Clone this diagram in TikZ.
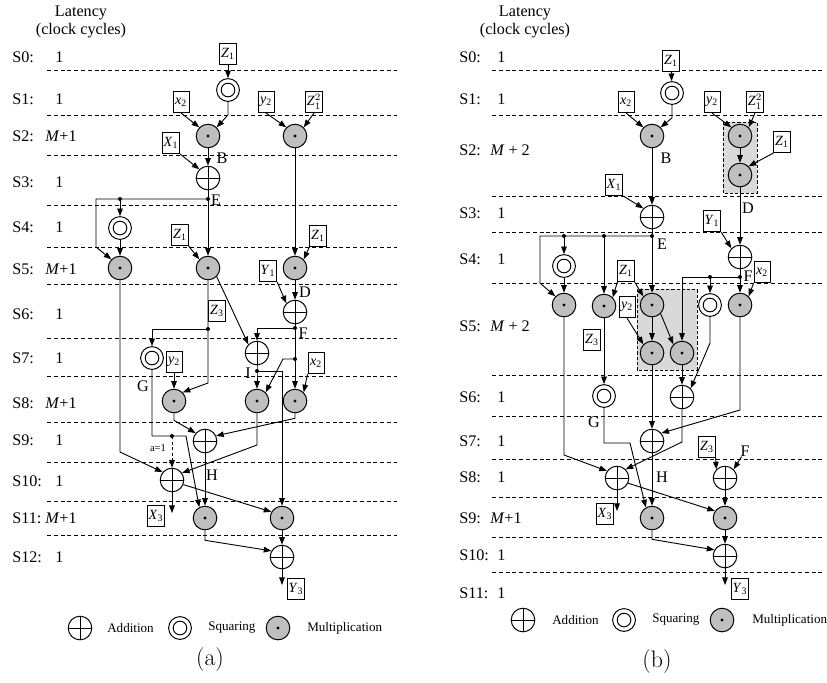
\documentclass[tikz,border=0pt]{standalone}
\usepackage{fontspec}
\newfontfamily\timesfont{Liberation Serif}
\usetikzlibrary{arrows.meta}
\newcommand{\sg}[2]{\textit{#1}\textsubscript{#2}}
\newcommand{\sgsq}[2]{\textit{#1}$_{#2}^{2}$}

\begin{document}
\begin{tikzpicture}[x=0.25mm, y=-0.25mm,
    font=\timesfont\fontsize{11.5}{13}\selectfont,
    mul/.style={circle, draw, line width=0.7pt, fill=gray!50, minimum size=5.9mm, inner sep=0pt,
      path picture={\fill[black] (path picture bounding box.center) circle (0.4mm);}},
    add/.style={circle, draw, line width=0.7pt, fill=white, minimum size=5.9mm, inner sep=0pt,
      path picture={\draw[line width=0.55pt] (path picture bounding box.north) -- (path picture bounding box.south)
        (path picture bounding box.west) -- (path picture bounding box.east);}},
    sqr/.style={circle, draw, line width=0.7pt, fill=white, minimum size=5.7mm, inner sep=0pt,
      path picture={\draw[line width=0.7pt] (path picture bounding box.center) circle (1.7mm);}},
    inp/.style={draw, line width=0.6pt, fill=white, inner sep=1pt, minimum width=4mm, minimum height=5.3mm,
      font=\timesfont\fontsize{10}{11}\selectfont},
    arr/.style={-{Triangle[length=1.9mm,width=1.4mm]}, line width=0.65pt},
    wire/.style={line width=0.65pt},
    stageline/.style={line width=0.6pt, dash pattern=on 1mm off 0.7mm},
    grp/.style={draw, line width=0.6pt, dash pattern=on 0.8mm off 0.5mm, fill=gray!30},
    tag/.style={inner sep=0pt},
    legtxt/.style={anchor=west, inner sep=0pt, font=\timesfont\fontsize{9.3}{11}\selectfont},
    capt/.style={font=\rmfamily\fontsize{17}{20}\selectfont}
  ]
  \useasboundingbox (0,0) rectangle (827,682);

  % ---------- (a) ----------
  \node (aLat) at (81,13) {Latency};
  \node (aClk) at (81,31) {(clock cycles)};
  \foreach \y/\s/\x/\l in {57/0/55/1, 99/1/55/1, 136/2/45/{\textit{M}+1}, 182/3/55/1, 227/4/55/1,
      269/5/45/{\textit{M}+1}, 314/6/55/1, 358/7/55/1, 403/8/45/{\textit{M}+1}, 440/9/55/1,
      481/10/55/1, 518/11/45/{\textit{M}+1}, 557/12/55/1}
  {
    \node[anchor=west, tag] (aS\s) at (12,\y) {S\s:};
    \node[anchor=west, tag] (aN\s) at (\x,\y) {\l};
  }
  \foreach \y in {70,115,155,205,247,284,338,376,422,462,501,535}
    \draw[stageline] (47,\y) -- (397,\y);

  \node[inp] (aZ1) at (228,54) {\sg{Z}{1}};
  \node[inp] (ax2) at (181,102) {\sg{x}{2}};
  \node[inp] (ay2) at (266,102) {\sg{y}{2}};
  \node[inp] (aZ1s) at (314,102) {\sgsq{Z}{1}};
  \node[inp] (aX1) at (171,143) {\sg{X}{1}};
  \node[inp] (aZ1b) at (180,235) {\sg{Z}{1}};
  \node[inp] (aZ1c) at (318,236) {\sg{Z}{1}};
  \node[inp] (aY1) at (268,271) {\sg{Y}{1}};
  \node[inp] (aZ3) at (217,311) {\sg{Z}{3}};
  \node[inp] (ay2b) at (174,362) {\sg{y}{2}};
  \node[inp] (ax2b) at (316,363) {\sg{x}{2}};
  \node[inp] (aX3) at (156,516) {\sg{X}{3}};
  \node[inp] (aY3) at (296,589) {\sg{Y}{3}};

  \node[sqr] (asq1) at (228,90) {};
  \node[mul] (am1) at (208,136) {};
  \node[mul] (am2) at (295,136) {};
  \node[add] (aa1) at (208,178) {};
  \node[sqr] (asq2) at (120,228) {};
  \node[mul] (am3) at (120,268) {};
  \node[mul] (am4) at (208,268) {};
  \node[mul] (am5) at (295,268) {};
  \node[add] (aa2) at (295,312) {};
  \node[add] (aa3) at (257,353) {};
  \node[sqr] (asq3) at (152,358) {};
  \node[mul] (am6) at (174,401) {};
  \node[mul] (am7) at (257,401) {};
  \node[mul] (am10) at (295,401) {};
  \node[add] (aa4) at (205,441) {};
  \node[add] (aa5) at (172,480) {};
  \node[mul] (am8) at (205,518) {};
  \node[mul] (am9) at (282,518) {};
  \node[add] (aa6) at (282,557) {};

  \coordinate (aE) at (208,199);
  \coordinate (aEs) at (120,199);
  \coordinate (aF) at (295,328);
  \coordinate (aJ) at (208,329);
  \coordinate (aI) at (257,371);
  \coordinate (aK) at (295,359);
  \coordinate (aG) at (172,436);
  \coordinate (aX3e) at (172,513);
  \coordinate (aY3e) at (282,585);

  \node[tag] (aB) at (222,158) {B};
  \node[tag] (aEt) at (216,200) {E};
  \node[tag] (aD) at (305,292) {D};
  \node[tag] (aFt) at (303,333) {F};
  \node[tag] (aGt) at (143,386) {G};
  \node[tag] (aIt) at (248,373) {I};
  \node[tag] (aH) at (212,475) {H};
  \node[tag, font=\timesfont\fontsize{7.5}{8}\selectfont] (aA1) at (158,448) {a=1};

  \draw[arr] (aZ1) -- (asq1);
  \draw[arr] (asq1.south) -- ++(0,13) -- (am1.north east);
  \draw[arr] (ax2.south) -- (am1.north west);
  \draw[arr] (ay2.south) -- (am2.north west);
  \draw[arr] (aZ1s.south) -- (am2.north east);
  \draw[arr] (am1) -- (aa1);
  \draw[arr] (aX1.south east) -- (aa1.north west);
  \draw[wire] (aa1) -- (aE);
  \draw[arr] (aE) -- (am4);
  \draw[arr] (aE) -- (96,199) -- (96,247) -- (am3.north west);
  \draw[arr] (aEs) -- (asq2);
  \draw[arr] (asq2) -- (am3);
  \draw[arr] (aZ1b.south east) -- (am4.north west);
  \draw[arr] (am2) -- (am5);
  \draw[arr] (aZ1c.south west) -- (am5.north east);
  \draw[arr] (am5) -- (aa2);
  \draw[arr] (aY1.south east) -- (aa2.north west);
  \draw[wire] (aa2) -- (aF);
  \draw[arr] (aF) -| (aa3);
  \draw[arr] (am4.south east) -- (aa3.north west);
  \draw[arr] (am4) -- (aJ) -- (208,383) -- (am6.north east);
  \draw[arr] (aJ) -| (asq3);
  \draw[arr] (ay2b) -- (am6);
  \draw[arr] (aa3) -- (aI) -- (am7);
  \draw[arr] (aI) -| (am9);
  \draw[arr] (aF) -- (am10);
  \draw[arr] (aK) -- (283,359) -- (am7.north east);
  \draw[arr] (ax2b.south west) -- (am10.north east);
  \draw[arr] (am6.south) -- ++(0,7) -- (aa4.140);
  \draw[arr] (am10.south) -- ++(0,5) -- (aa4.25);
  \draw[arr] (asq3) -- (152,436) -- (186,436) -- (am8.118);
  \draw[arr, dash pattern=on 0.8mm off 0.6mm] (aG) -- (aa5);
  \draw[arr] (am7.south) -- (257,445) -- (aa5.35);
  \draw[arr] (am3.south) -- (120,452) -- (aa5.140);
  \draw[arr] (aa4) -- (am8);
  \draw[arr] (aa5) -- (aX3e);
  \draw[arr] (aa5.-22) -- (am9.150);
  \draw[arr] (am8.south) -- ++(0,10) -- (aa6.150);
  \draw[arr] (am9) -- (aa6);
  \draw[arr] (aa6) -- (aY3e);
  \foreach \p in {aE,aEs,aF,aJ,aI,aK,aG}
    \fill (\p) circle (0.5mm);

  \node[add] (aLgA) at (80,628) {};
  \node[legtxt] (aLgAt) at (107,628) {Addition};
  \node[sqr] (aLgS) at (180,628) {};
  \node[legtxt] (aLgSt) at (208,628) {Squaring};
  \node[mul] (aLgM) at (278,628) {};
  \node[legtxt] (aLgMt) at (307,628) {Multiplication};
  \node[capt] (aCap) at (210,660) {(a)};

  % ---------- (b) ----------
  \node (bLat) at (525,13) {Latency};
  \node (bClk) at (525,31) {(clock cycles)};
  \foreach \y/\s/\x/\l in {57/0/497/1, 99/1/497/1, 150/2/490/{\textit{M} + 2}, 213/3/497/1, 259/4/497/1,
      326/5/490/{\textit{M} + 2}, 397/6/497/1, 441/7/497/1, 477/8/497/1, 518/9/490/{\textit{M}+1},
      555/10/497/1, 593/11/497/1}
  {
    \node[anchor=west, tag] (bS\s) at (459,\y) {S\s:};
    \node[anchor=west, tag] (bN\s) at (\x,\y) {\l};
  }
  \foreach \y in {70,115,196,232,283,375,416,459,497,537,572}
    \draw[stageline] (492,\y) -- (822,\y);

  \draw[grp] (723,122) rectangle (757,193);
  \draw[grp] (637,289) rectangle (697,370);

  \node[inp] (bZ1) at (671,61) {\sg{Z}{1}};
  \node[inp] (bx2) at (626,102) {\sg{x}{2}};
  \node[inp] (by2) at (712,102) {\sg{y}{2}};
  \node[inp] (bZ1s) at (755,102) {\sgsq{Z}{1}};
  \node[inp] (bZ1b) at (782,142) {\sg{Z}{1}};
  \node[inp] (bX1) at (614,185) {\sg{X}{1}};
  \node[inp] (bY1) at (712,221) {\sg{Y}{1}};
  \node[inp] (bZ1c) at (626,271) {\sg{Z}{1}};
  \node[inp] (bx2b) at (762,272) {\sg{x}{2}};
  \node[inp] (by2b) at (627,307) {\sg{y}{2}};
  \node[inp] (bZ3) at (592,340) {\sg{Z}{3}};
  \node[inp] (bZ3b) at (707,447) {\sg{Z}{3}};
  \node[inp] (bX3) at (605,514) {\sg{X}{3}};
  \node[inp] (bY3) at (740,589) {\sg{Y}{3}};

  \node[sqr] (bsq1) at (672,93) {};
  \node[mul] (bm1) at (652,136) {};
  \node[mul] (bm2) at (740,136) {};
  \node[mul] (bm2b) at (740,175) {};
  \node[add] (ba1) at (652,217) {};
  \node[add] (ba2) at (740,257) {};
  \node[sqr] (bsq2) at (564,266) {};
  \node[mul] (bm3) at (564,305) {};
  \node[mul] (bm4) at (604,306) {};
  \node[mul] (bm5) at (652,305) {};
  \node[sqr] (bsq3) at (710,305) {};
  \node[mul] (bm8) at (740,305) {};
  \node[mul] (bm6) at (652,353) {};
  \node[mul] (bm7) at (682,353) {};
  \node[sqr] (bsq4) at (604,396) {};
  \node[add] (ba3) at (682,397) {};
  \node[add] (ba4) at (652,441) {};
  \node[add] (ba5) at (617,478) {};
  \node[add] (ba6) at (725,478) {};
  \node[mul] (bm9) at (652,518) {};
  \node[mul] (bm10) at (725,518) {};
  \node[add] (ba7) at (725,556) {};

  \coordinate (bE) at (652,236);
  \coordinate (bEa) at (564,236);
  \coordinate (bEb) at (604,236);
  \coordinate (bF) at (740,277);
  \coordinate (bFa) at (710,277);
  \coordinate (bX3e) at (617,511);
  \coordinate (bY3e) at (725,585);

  \node[tag] (bB) at (666,158) {B};
  \node[tag] (bD) at (748,208) {D};
  \node[tag] (bEt) at (662,244) {E};
  \node[tag] (bFt) at (748,276) {F};
  \node[tag] (bGt) at (594,422) {G};
  \node[tag] (bH) at (662,477) {H};
  \node[tag] (bFin) at (745,451) {F};

  \draw[arr] (bZ1) -- (bsq1);
  \draw[arr] (bsq1.south) -- ++(0,13) -- (bm1.north east);
  \draw[arr] (bx2.south) -- (bm1.north west);
  \draw[arr] (by2.south) -- (bm2.north west);
  \draw[arr] (bZ1s.south) -- (bm2.north east);
  \draw[arr] (bm2) -- (bm2b);
  \draw[arr] (bZ1b.south west) -- (bm2b.north east);
  \draw[arr] (bm1) -- (ba1);
  \draw[arr] (bX1.south east) -- (ba1.north west);
  \draw[arr] (bm2b) -- (ba2);
  \draw[arr] (bY1.south east) -- (ba2.north west);
  \draw[wire] (ba1) -- (bE);
  \draw[arr] (bE) -- (bm5);
  \draw[arr] (bE) -- (540,236) -- (540,283) -- (bm3.north west);
  \draw[arr] (bEa) -- (bsq2);
  \draw[arr] (bsq2) -- (bm3);
  \draw[arr] (bEb) -- (bm4);
  \draw[arr] (bZ1c.south west) -- (bm4.north east);
  \draw[arr] (bZ1c.south east) -- (bm5.north west);
  \draw[arr] (by2b.south) -- (bm6.north west);
  \draw[arr] (bm5) -- (bm6);
  \draw[arr] (bm5.south east) -- (bm7.north west);
  \draw[wire] (ba2) -- (bF);
  \draw[arr] (bF) -- (bm8);
  \draw[arr] (bF) -| (bm7);
  \draw[arr] (bFa) -- (bsq3);
  \draw[arr] (bx2b.south west) -- (bm8.north east);
  \draw[arr] (bm4) -- (bsq4);
  \draw[arr] (bm7) -- (ba3);
  \draw[arr] (bsq3) -- (710,343) -- (ba3.north east);
  \draw[arr] (bm6) -- (ba4);
  \draw[arr] (bm8) -- (740,410) -- (ba4.40);
  \draw[arr] (bm3) -- (564,455) -- (ba5.145);
  \draw[arr] (ba3) -- (682,442) -- (ba5.north east);
  \draw[arr] (bsq4) -- (604,443) -- (630,443) -- (bm9.120);
  \draw[arr] (ba4) -- (bm9);
  \draw[arr] (bZ3b.south east) -- (ba6.north west);
  \draw[arr] (bFin) -- (ba6.north east);
  \draw[arr] (ba6) -- (bm10);
  \draw[arr] (ba5) -- (bX3e);
  \draw[arr] (ba5.-25) -- (bm10.145);
  \draw[arr] (bm9.south) -- ++(0,9) -- (ba7.150);
  \draw[arr] (bm10) -- (ba7);
  \draw[arr] (ba7) -- (bY3e);
  \foreach \p in {bE,bEa,bEb,bF,bFa}
    \fill (\p) circle (0.5mm);

  \node[add] (bLgA) at (523,620) {};
  \node[legtxt] (bLgAt) at (552,620) {Addition};
  \node[sqr] (bLgS) at (624,620) {};
  \node[legtxt] (bLgSt) at (652,620) {Squaring};
  \node[mul] (bLgM) at (722,620) {};
  \node[legtxt] (bLgMt) at (752,620) {Multiplication};
  \node[capt] (bCap) at (657,662) {(b)};
\end{tikzpicture}
\end{document}
